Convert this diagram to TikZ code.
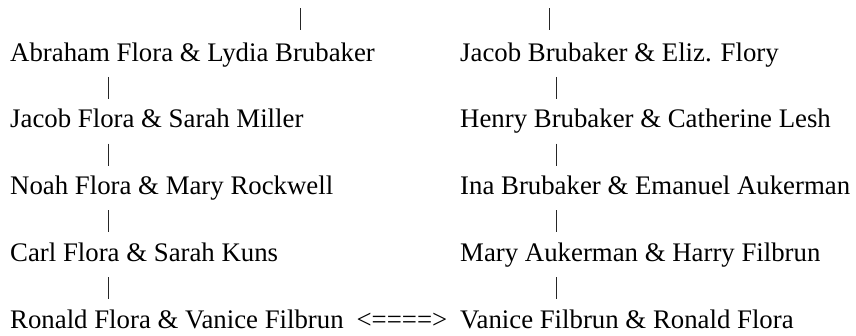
\documentclass[tikz,border=0pt]{standalone}
\usepackage{fontspec}
\setmainfont{Liberation Serif}
\usetikzlibrary{positioning}
\tikzset{
  couple/.style={anchor=base west,inner sep=0pt,font=\fontsize{26.8}{32}\selectfont},
  linktxt/.style={anchor=base,inner sep=0pt,font=\fontsize{26.8}{32}\selectfont},
  bar/.style={line width=1pt,black!85},
}
\begin{document}
\begin{tikzpicture}[x=1pt,y=-1pt]
  \useasboundingbox (0,0) rectangle (856,335);
  % Flora line (left)
  \node[couple] (fl1) at (10,61)     {Abraham Flora \& Lydia Brubaker};
  \node[couple] (fl2) at (10,127.75) {Jacob Flora \& Sarah Miller};
  \node[couple] (fl3) at (10,194.5)  {Noah Flora \& Mary Rockwell};
  \node[couple] (fl4) at (10,261.25) {Carl Flora \& Sarah Kuns};
  \node[couple] (fl5) at (10,328)    {Ronald Flora \& Vanice Filbrun};
  % Brubaker line (right)
  \node[couple] (br1) at (460,61)     {Jacob Brubaker \& Eliz. Flory};
  \node[couple] (br2) at (460,127.75) {Henry Brubaker \& Catherine Lesh};
  \node[couple] (br3) at (460,194.5)  {Ina Brubaker \& Emanuel Aukerman};
  \node[couple] (br4) at (460,261.25) {Mary Aukerman \& Harry Filbrun};
  \node[couple] (br5) at (460,328)    {Vanice Filbrun \& Ronald Flora};
  % bars from above, free ends
  \coordinate (flup) at ([xshift=290pt,yshift=53pt]fl1.base west);
  \coordinate (brup) at ([xshift=89pt,yshift=53pt]br1.base west);
  \draw[bar] (flup) -- ([xshift=290pt,yshift=31pt]fl1.base west);
  \draw[bar] (brup) -- ([xshift=89pt,yshift=31pt]br1.base west);
  % bars between generations
  \foreach \a/\b in {fl1/fl2,fl2/fl3,fl3/fl4,fl4/fl5}
    \draw[bar] ([xshift=98pt,yshift=-15.75pt]\a.base west) -- ([xshift=98pt,yshift=29pt]\b.base west);
  \foreach \a/\b in {br1/br2,br2/br3,br3/br4,br4/br5}
    \draw[bar] ([xshift=96.5pt,yshift=-15.75pt]\a.base west) -- ([xshift=96.5pt,yshift=29pt]\b.base west);
  % the two lines meet
  \path (fl5.base east) -- node[linktxt] (meet) {<====>} (br5.base west);
\end{tikzpicture}
\end{document}
